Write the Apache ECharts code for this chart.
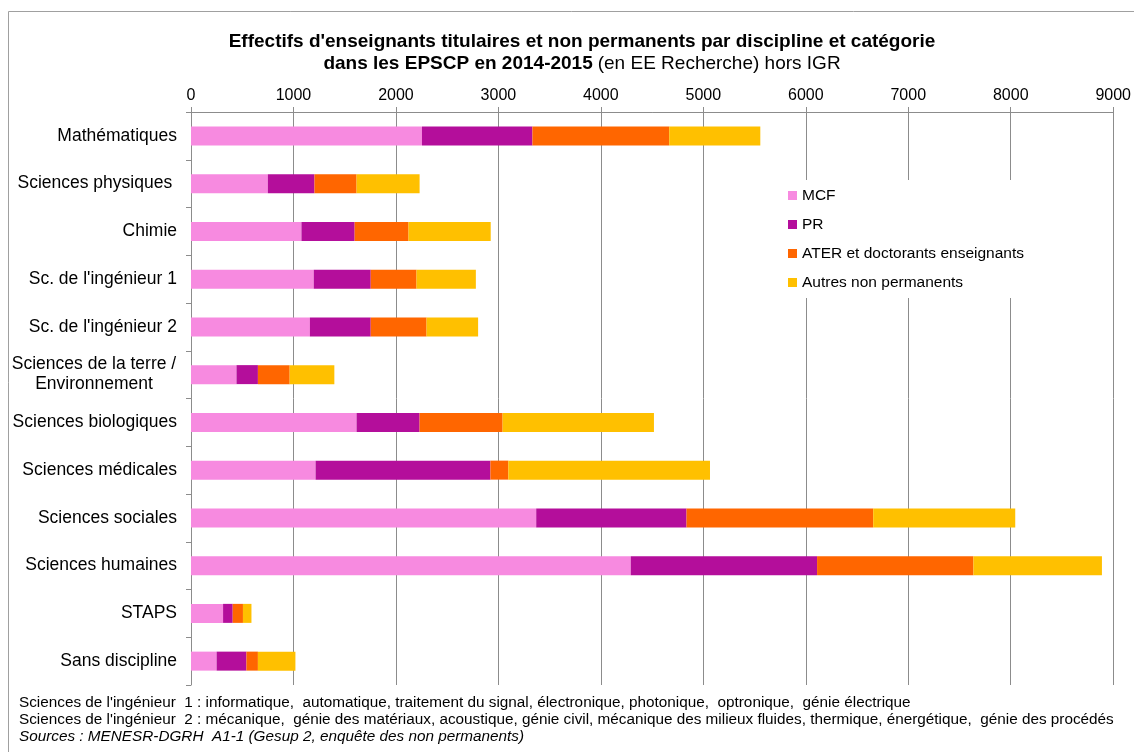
<!DOCTYPE html>
<html>
<head>
<meta charset="utf-8">
<script src="https://cdn.jsdelivr.net/npm/echarts@6/dist/echarts.min.js"></script>
<style>html,body{margin:0;padding:0;background:#fff}#c{width:1134px;height:752px}</style>
</head>
<body>
<div id="c"></div>
<script>
const categories = ['Mathématiques', 'Sciences physiques ', 'Chimie', "Sc. de l'ingénieur 1", "Sc. de l'ingénieur 2",
  'Sciences de la terre /\nEnvironnement', 'Sciences biologiques', 'Sciences médicales', 'Sciences sociales',
  'Sciences humaines', 'STAPS', 'Sans discipline'];
const seriesNames = ['MCF', 'PR', 'ATER et doctorants enseignants', 'Autres non permanents'];
const mcf    = [2254, 750, 1078, 1198, 1160, 444, 1616, 1216, 3369, 4292, 313, 250];
const pr     = [1078, 455, 519, 556, 594, 209, 615, 1706, 1467, 1818, 94, 291];
const ater   = [1335, 411, 526, 447, 545, 310, 810, 175, 1822, 1526, 100, 112];
const autres = [889, 615, 802, 579, 503, 436, 1477, 1968, 1386, 1254, 83, 366];
const xTicks = [0, 1000, 2000, 3000, 4000, 5000, 6000, 7000, 8000, 9000];
const notes = [
  "Sciences de l'ingénieur  1 : informatique,  automatique, traitement du signal, électronique, photonique,  optronique,  génie électrique",
  "Sciences de l'ingénieur  2 : mécanique,  génie des matériaux, acoustique, génie civil, mécanique des milieux fluides, thermique, énergétique,  génie des procédés",
  "Sources : MENESR-DGRH  A1-1 (Gesup 2, enquête des non permanents)"
];
const colors = ['#F78AE0', '#B40E9B', '#FF6600', '#FFC000'];
const FONT = 'Liberation Sans, Arial, sans-serif';

const chart = echarts.init(document.getElementById('c'), null, {renderer: 'canvas'});
const dataSets = [mcf, pr, ater, autres];
chart.setOption({
  animation: false,
  backgroundColor: '#fff',
  textStyle: {fontFamily: FONT, color: '#000'},
  title: {
    left: 577, top: 26, textAlign: 'center',
    text: '{b|Effectifs d\'enseignants titulaires et non permanents par discipline et catégorie}\n{b|dans les EPSCP en 2014-2015} {n|(en EE Recherche) hors IGR}',
    textStyle: {
      rich: {
        b: {fontFamily: FONT, fontWeight: 'bold', fontSize: 19, color: '#000', lineHeight: 22},
        n: {fontFamily: FONT, fontWeight: 'normal', fontSize: 19, color: '#000', lineHeight: 22}
      }
    }
  },
  legend: {
    orient: 'vertical', left: 781, top: 180,
    data: seriesNames,
    icon: 'rect', itemWidth: 9, itemHeight: 9, itemGap: 12,
    backgroundColor: '#fff', padding: [7, 10, 7, 7],
    textStyle: {fontFamily: FONT, fontSize: 15.5, color: '#000', lineHeight: 17}
  },
  grid: {left: 191, right: 19, top: 112, bottom: 67, containLabel: false},
  xAxis: {
    type: 'value', position: 'top', min: 0, max: 9000, interval: 1000,
    axisLine: {show: true, lineStyle: {color: '#8c8c8c'}},
    axisTick: {show: true, length: 5, lineStyle: {color: '#8c8c8c'}},
    axisLabel: {fontFamily: FONT, fontSize: 16, color: '#000', margin: 8,
      formatter: v => xTicks.includes(v) ? String(v) : ''},
    splitLine: {show: true, lineStyle: {color: '#8c8c8c', width: 1}}
  },
  yAxis: {
    type: 'category', inverse: true, data: categories,
    axisLine: {show: true, lineStyle: {color: '#8c8c8c'}},
    axisTick: {show: true, length: 5, lineStyle: {color: '#8c8c8c'}},
    axisLabel: {
      fontFamily: FONT, fontSize: 17.5, color: '#000', margin: 14,
      formatter: v => v.indexOf('\n') >= 0 ? v.split('\n').map(s => '{c|' + s + '}').join('\n') : v,
      rich: {c: {fontFamily: FONT, fontSize: 17.5, color: '#000', width: 166, align: 'center', lineHeight: 20}}
    }
  },
  series: seriesNames.map((n, i) => ({
    name: n, type: 'bar', stack: 'total', barWidth: 19,
    itemStyle: {color: colors[i]},
    data: dataSets[i]
  })),
  graphic: [
    {type: 'rect', silent: true, z: -1, shape: {x: 8.5, y: 11.5, width: 1200, height: 900},
      style: {fill: 'none', stroke: '#a0a0a0', lineWidth: 1}},
    ...notes.map((t, i) => ({
      type: 'text', left: 19, top: 695 + i * 17,
      style: {text: t, fontFamily: FONT, fontSize: 15.3, fill: '#000', fontStyle: i === 2 ? 'italic' : 'normal'}
    }))
  ]
});
</script>
</body>
</html>
